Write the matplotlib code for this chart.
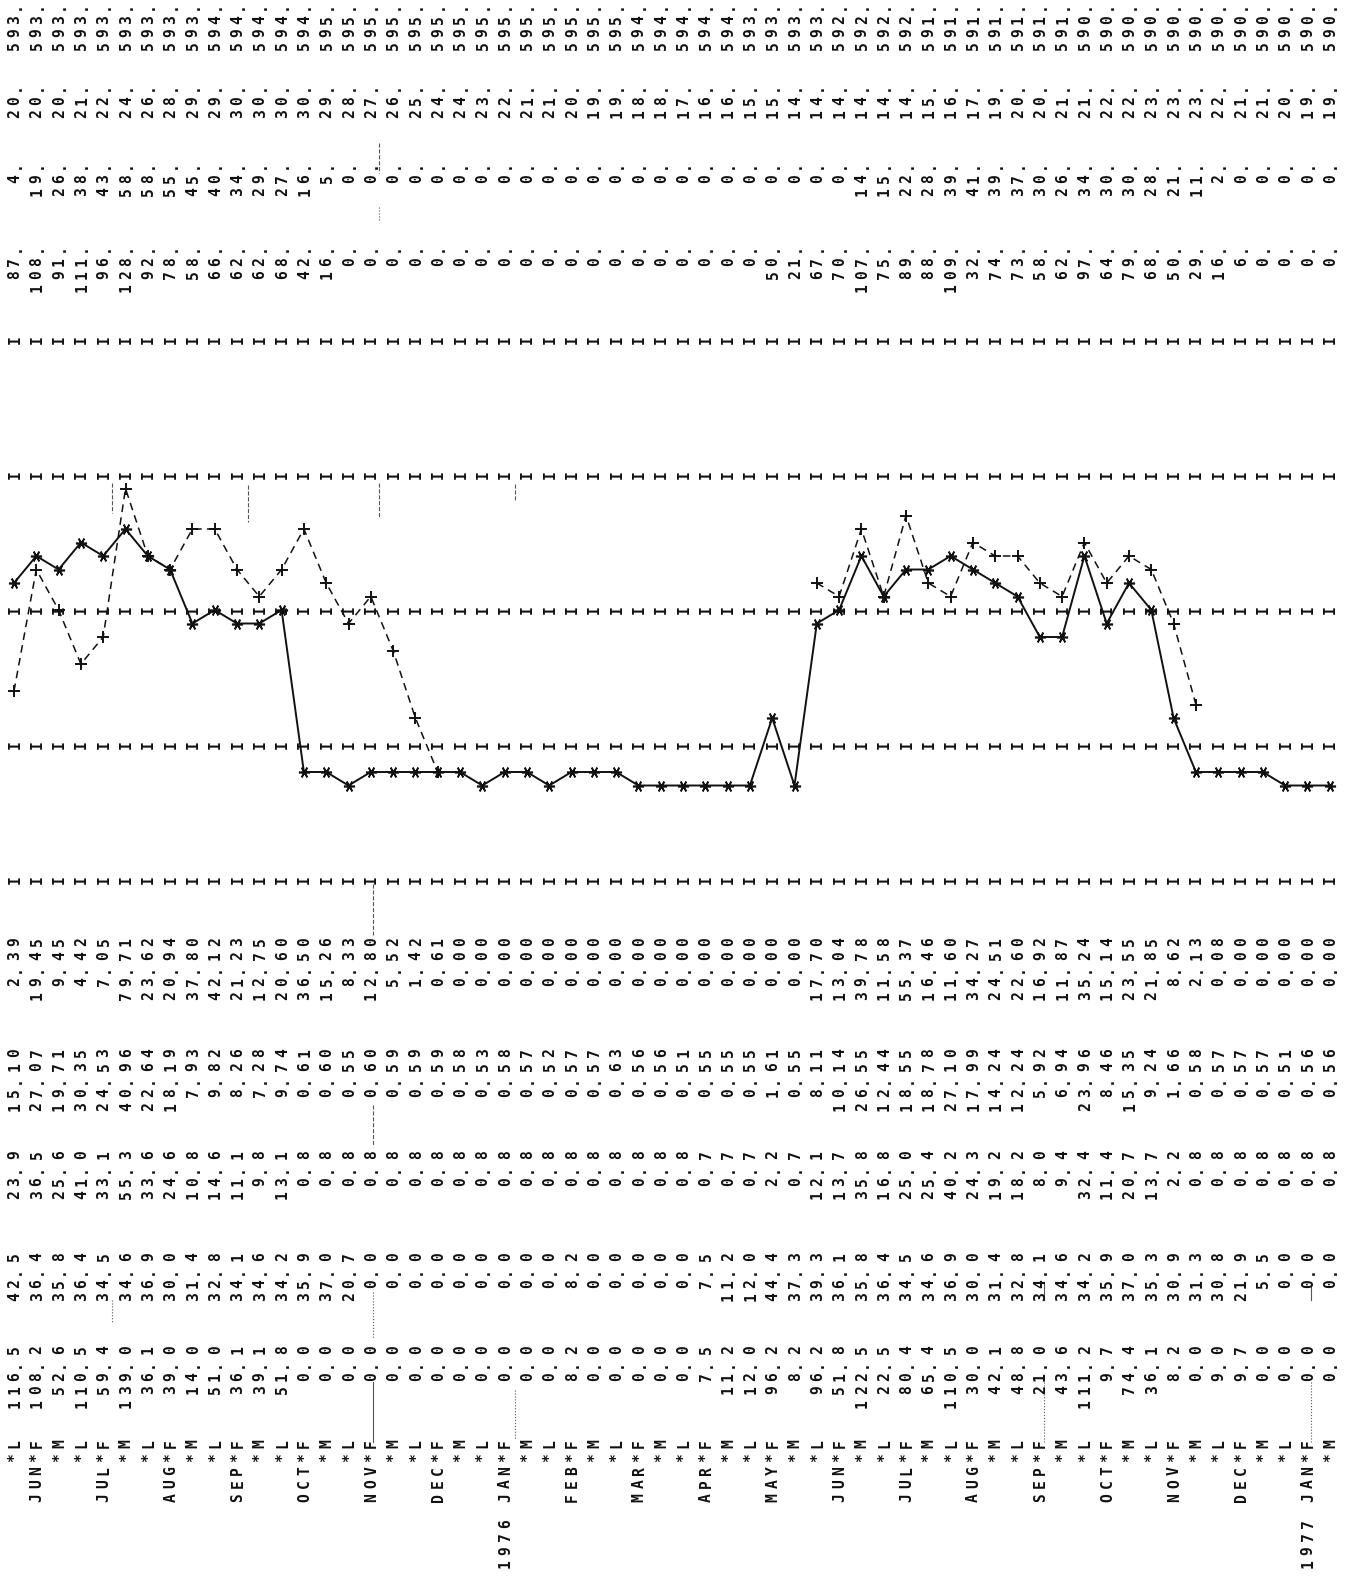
import numpy as np
import matplotlib
matplotlib.use("Agg")
import matplotlib.pyplot as plt

# ── page geometry (line-printer output, scanned rotated by 90°) ──────────────
W, H = 1345, 1577
X0, DX = 14.0, 22.3          # pixel x of first period and period pitch
PITCH = 13.3                 # printer character pitch along a print line (px)
FS = 10.5
FONT = dict(family="DejaVu Sans Mono", fontsize=FS, fontweight="bold", color="#111111")
INK = "#111111"
PENCIL = "#555555"

# ── data: one entry per ten-day period, JUN 1975 .. JAN 1977 ─────────────────
periods = ["*L", "JUN*F", "*M", "*L", "JUL*F", "*M", "*L", "AUG*F", "*M", "*L",
           "SEP*F", "*M", "*L", "OCT*F", "*M", "*L", "NOV*F", "*M", "*L", "DEC*F",
           "*M", "*L", "1976 JAN*F", "*M", "*L", "FEB*F", "*M", "*L", "MAR*F", "*M",
           "*L", "APR*F", "*M", "*L", "MAY*F", "*M", "*L", "JUN*F", "*M", "*L",
           "JUL*F", "*M", "*L", "AUG*F", "*M", "*L", "SEP*F", "*M", "*L", "OCT*F",
           "*M", "*L", "NOV*F", "*M", "*L", "DEC*F", "*M", "*L", "1977 JAN*F", "*M"]

col_a = [116.5, 108.2, 52.6, 110.5, 59.4, 139.0, 36.1, 39.0, 14.0, 51.0,
         36.1, 39.1, 51.8, 0.0, 0.0, 0.0, 0.0, 0.0, 0.0, 0.0,
         0.0, 0.0, 0.0, 0.0, 0.0, 8.2, 0.0, 0.0, 0.0, 0.0,
         0.0, 7.5, 11.2, 12.0, 96.2, 8.2, 96.2, 51.8, 122.5, 22.5,
         80.4, 65.4, 110.5, 30.0, 42.1, 48.8, 21.0, 43.6, 111.2, 9.7,
         74.4, 36.1, 8.2, 0.0, 9.0, 9.7, 0.0, 0.0, 0.0, 0.0]

col_b = [42.5, 36.4, 35.8, 36.4, 34.5, 34.6, 36.9, 30.0, 31.4, 32.8,
         34.1, 34.6, 34.2, 35.9, 37.0, 20.7, 0.0, 0.0, 0.0, 0.0,
         0.0, 0.0, 0.0, 0.0, 0.0, 8.2, 0.0, 0.0, 0.0, 0.0,
         0.0, 7.5, 11.2, 12.0, 44.4, 37.3, 39.3, 36.1, 35.8, 36.4,
         34.5, 34.6, 36.9, 30.0, 31.4, 32.8, 34.1, 34.6, 34.2, 35.9,
         37.0, 35.3, 30.9, 31.3, 30.8, 21.9, 5.5, 0.0, 0.0, 0.0]

col_c = [23.9, 36.5, 25.6, 41.0, 33.1, 55.3, 33.6, 24.6, 10.8, 14.6,
         11.1, 9.8, 13.1, 0.8, 0.8, 0.8, 0.8, 0.8, 0.8, 0.8,
         0.8, 0.8, 0.8, 0.8, 0.8, 0.8, 0.8, 0.8, 0.8, 0.8,
         0.8, 0.7, 0.7, 0.7, 2.2, 0.7, 12.1, 13.7, 35.8, 16.8,
         25.0, 25.4, 40.2, 24.3, 19.2, 18.2, 8.0, 9.4, 32.4, 11.4,
         20.7, 13.7, 2.2, 0.8, 0.8, 0.8, 0.8, 0.8, 0.8, 0.8]

col_d = [15.10, 27.07, 19.71, 30.35, 24.53, 40.96, 22.64, 18.19, 7.93, 9.82,
         8.26, 7.28, 9.74, 0.61, 0.60, 0.55, 0.60, 0.59, 0.59, 0.59,
         0.58, 0.53, 0.58, 0.57, 0.52, 0.57, 0.57, 0.63, 0.56, 0.56,
         0.51, 0.55, 0.55, 0.55, 1.61, 0.55, 8.11, 10.14, 26.55, 12.44,
         18.55, 18.78, 27.10, 17.99, 14.24, 12.24, 5.92, 6.94, 23.96, 8.46,
         15.35, 9.24, 1.66, 0.58, 0.57, 0.57, 0.57, 0.51, 0.56, 0.56]

col_e = [2.39, 19.45, 9.45, 4.42, 7.05, 79.71, 23.62, 20.94, 37.80, 42.12,
         21.23, 12.75, 20.60, 36.50, 15.26, 8.33, 12.80, 5.52, 1.42, 0.61,
         0.00, 0.00, 0.00, 0.00, 0.00, 0.00, 0.00, 0.00, 0.00, 0.00,
         0.00, 0.00, 0.00, 0.00, 0.00, 0.00, 17.70, 13.04, 39.78, 11.58,
         55.37, 16.46, 11.60, 34.27, 24.51, 22.60, 16.92, 11.87, 35.24, 15.14,
         23.55, 21.85, 8.62, 2.13, 0.08, 0.00, 0.00, 0.00, 0.00, 0.00]

top_1 = [593, 593, 593, 593, 593, 593, 593, 593, 593, 594,
         594, 594, 594, 594, 595, 595, 595, 595, 595, 595,
         595, 595, 595, 595, 595, 595, 595, 595, 594, 594,
         594, 594, 594, 593, 593, 593, 593, 592, 592, 592,
         592, 591, 591, 591, 591, 591, 591, 591, 590, 590,
         590, 590, 590, 590, 590, 590, 590, 590, 590, 590]

top_2 = [20, 20, 20, 21, 22, 24, 26, 28, 29, 29,
         30, 30, 30, 30, 29, 28, 27, 26, 25, 24,
         24, 23, 22, 21, 21, 20, 19, 19, 18, 18,
         17, 16, 16, 15, 15, 14, 14, 14, 14, 14,
         14, 15, 16, 17, 19, 20, 20, 21, 21, 22,
         22, 23, 23, 23, 22, 21, 21, 20, 19, 19]

top_3 = [4, 19, 26, 38, 43, 58, 58, 55, 45, 40,
         34, 29, 27, 16, 5, 0, 0, 0, 0, 0,
         0, 0, 0, 0, 0, 0, 0, 0, 0, 0,
         0, 0, 0, 0, 0, 0, 0, 0, 14, 15,
         22, 28, 39, 41, 39, 37, 30, 26, 34, 30,
         30, 28, 21, 11, 2, 0, 0, 0, 0, 0]

top_4 = [87, 108, 91, 111, 96, 128, 92, 78, 58, 66,
         62, 62, 68, 42, 16, 0, 0, 0, 0, 0,
         0, 0, 0, 0, 0, 0, 0, 0, 0, 0,
         0, 0, 0, 0, 50, 21, 67, 70, 107, 75,
         89, 88, 109, 32, 74, 73, 58, 62, 97, 64,
         79, 68, 50, 29, 16, 6, 0, 0, 0, 0]

grid_values = [0.1, 1, 10, 100, 1000]


# ── helpers ──────────────────────────────────────────────────────────────────
HALF_CAP = 0.73 * FS * 100 / 72 / 2 / DX     # half glyph height, in period units


def put(axx, k, y, ch):
    axx.text(k + HALF_CAP, y, ch, rotation=90, rotation_mode="anchor",
             ha="center", va="baseline", **FONT)


def column(axx, k, y_end, s):
    # print line runs upward on the page: last character sits at y_end
    for i, ch in enumerate(reversed(s)):
        if ch != " ":
            put(axx, k, y_end + i * PITCH, ch)


def snap(v):
    # printer resolution: one character cell = 0.1 decade
    with np.errstate(divide="ignore", invalid="ignore"):
        return 10 ** (np.round(np.log10(v) * 10) / 10)


def pencil(k, y0, y1, ls="--"):
    # hand-ruled marks on the printout
    ax.plot([k + 0.18, k + 0.18], [y0, y1], color=PENCIL, lw=0.8, ls=ls)


fig = plt.figure(figsize=(W / 100, H / 100), dpi=100)
fig.patch.set_facecolor("white")
xlim = (1 - X0 / DX, 1 + (W - X0) / DX)

ax = fig.add_axes([0, 0, 1, 1])
ax.set_xlim(xlim)
ax.set_ylim(H, 0)
ax.axis("off")

k = np.arange(1, len(periods) + 1)

# ── tabulated columns ───────────────────────────────────────────────────────
for i, kk in enumerate(k):
    column(ax, kk, 6, f"{top_1[i]}.")
    column(ax, kk, 87, f"{top_2[i]}.")
    column(ax, kk, 165, f"{top_3[i]}.")
    column(ax, kk, 248, f"{top_4[i]}.")

    column(ax, kk, 942, f"{col_e[i]:.2f}")
    column(ax, kk, 1053, f"{col_d[i]:.2f}")
    column(ax, kk, 1155, f"{col_c[i]:.1f}")
    column(ax, kk, 1257, f"{col_b[i]:.1f}")
    column(ax, kk, 1350, f"{col_a[i]:.1f}")
    column(ax, kk, 1444, periods[i])

# pencil rulings seen on the scan
pencil(17.2, 143, 173)
pencil(17.2, 207, 220, ":")
pencil(17.2, 483, 517)
pencil(16.9, 884, 935)
pencil(16.9, 1105, 1145)
pencil(16.9, 1292, 1338, ":")
pencil(16.9, 1382, 1442, "-")
pencil(5.2, 483, 513)
pencil(5.2, 1300, 1323, ":")
pencil(11.3, 485, 522)
pencil(23.3, 1390, 1440, ":")
pencil(23.3, 484, 500)
pencil(47.0, 1382, 1442, ":")
pencil(47.0, 1284, 1300, "-")
pencil(59.0, 1382, 1442, ":")
pencil(59.0, 1284, 1300, "-")

# ── log plot area: 0.1 .. 1000 ──────────────────────────────────────────────
pax = fig.add_axes([0, 1 - 880 / H, 1, (880 - 340) / H])
pax.set_xlim(xlim)
pax.set_yscale("log")
pax.set_ylim(0.1, 1000)
pax.axis("off")
pax.patch.set_alpha(0)

for gv in grid_values:
    for kk in k:
        put(pax, kk, gv, "I")

d = snap(np.array(col_d))
e_raw = np.array(col_e, dtype=float)
e = snap(np.where(e_raw >= 0.1, e_raw, np.nan))

pax.plot(k, d, color=INK, lw=1.4, marker=(6, 2, 90), ms=8, mew=1.2,
         clip_on=False, zorder=3)
pax.plot(k, e, color=INK, lw=1.1, dashes=(5, 3.5), marker="+", ms=9, mew=1.4,
         clip_on=False, zorder=3)

fig.savefig("out.png", dpi=100, facecolor="white")
